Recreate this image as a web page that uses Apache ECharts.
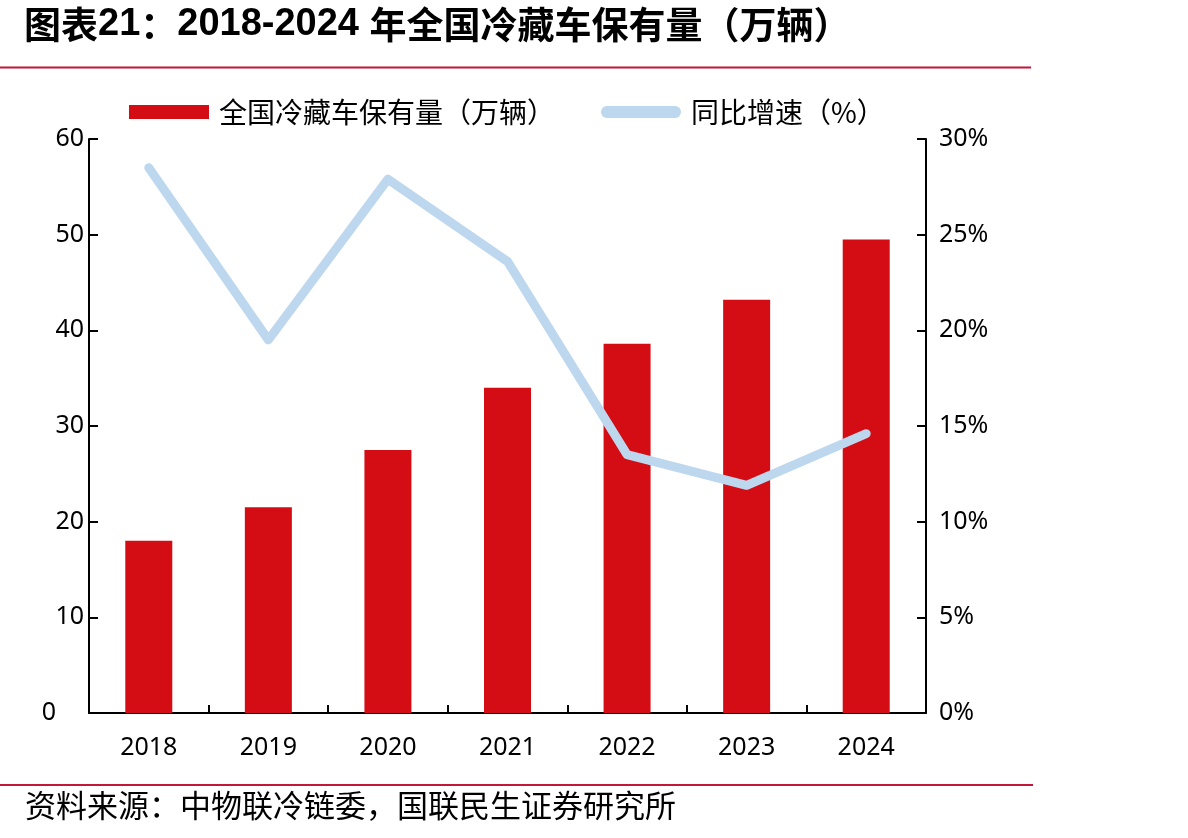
<!DOCTYPE html>
<html>
<head>
<meta charset="utf-8">
<script src="https://cdn.jsdelivr.net/npm/echarts@6/dist/echarts.min.js"></script>
<style>
html,body{margin:0;padding:0;background:#fff;}
#chart{width:1188px;height:838px;}
</style>
</head>
<body>
<div id="chart"></div>
<script>
var categories = ['2018', '2019', '2020', '2021', '2022', '2023', '2024'];
var stockValues = [18.0, 21.5, 27.5, 34.0, 38.6, 43.2, 49.5];
var growthValues = [0.285, 0.195, 0.279, 0.236, 0.135, 0.119, 0.146];
var leftTicks = { min: 0, max: 60, interval: 10 };
var rightTicks = { min: 0, max: 0.30, interval: 0.05 };
var seriesNames = ['全国冷藏车保有量（万辆）', '同比增速（%）'];

var chart = echarts.init(document.getElementById('chart'));
var axisColor = '#000';
var cjk = '"Noto Sans CJK SC", sans-serif';
var num = '"Noto Sans", "Open Sans", sans-serif';
var axisFont = 25;

chart.setOption({
  animation: false,
  backgroundColor: '#fff',
  title: {
    left: 24,
    top: 0,
    padding: [2, 0, 0, 0],
    text: '{c|图表}{n|21}{c|：}{n|2018-2024 }{c|年全国冷藏车保有量（万辆）}',
    textStyle: {
      rich: {
        c: { fontFamily: cjk, fontWeight: 'bold', fontSize: 37, color: '#000', lineHeight: 46 },
        n: { fontFamily: '"Liberation Sans", Arial, sans-serif', fontWeight: 'bold', fontSize: 38, color: '#000', lineHeight: 46 }
      }
    }
  },
  legend: {
    left: 129,
    top: 98,
    padding: 0,
    itemWidth: 80,
    itemHeight: 14,
    itemGap: 46,
    textStyle: { fontFamily: cjk, fontSize: 28, color: '#000', padding: [0, 0, 0, 5] },
    data: [
      { name: seriesNames[0], icon: 'rect' },
      { name: seriesNames[1], icon: 'path://M6,0L74,0A6,6,0,0,1,74,12L6,12A6,6,0,0,1,6,0Z' }
    ]
  },
  grid: { left: 89, right: 262, top: 139, bottom: 125, containLabel: false },
  xAxis: {
    type: 'category',
    data: categories,
    boundaryGap: true,
    axisLine: { show: true, lineStyle: { color: axisColor, width: 2 } },
    axisTick: { show: true, inside: true, length: 8, alignWithLabel: false, lineStyle: { color: axisColor, width: 2 } },
    axisLabel: { fontFamily: num, fontSize: axisFont, color: '#000', margin: 22 }
  },
  yAxis: [
    {
      type: 'value',
      min: leftTicks.min, max: leftTicks.max, interval: leftTicks.interval,
      position: 'left',
      axisLine: { show: true, lineStyle: { color: axisColor, width: 2 } },
      axisTick: { show: true, inside: true, length: 9, lineStyle: { color: axisColor, width: 2 } },
      splitLine: { show: false },
      axisLabel: {
        fontFamily: num, fontSize: axisFont, color: '#000', margin: 5,
        formatter: function (v) { return v === 0 ? '{z|0}' : String(v); },
        rich: { z: { fontFamily: num, fontSize: axisFont, color: '#000', padding: [0, 28, 0, 0] } }
      }
    },
    {
      type: 'value',
      min: rightTicks.min, max: rightTicks.max, interval: rightTicks.interval,
      position: 'right',
      axisLine: { show: true, lineStyle: { color: axisColor, width: 2 } },
      axisTick: { show: true, inside: true, length: 9, lineStyle: { color: axisColor, width: 2 } },
      splitLine: { show: false },
      axisLabel: {
        fontFamily: num, fontSize: axisFont, color: '#000', margin: 13,
        formatter: function (v) { return Math.round(v * 100) + '%'; }
      }
    }
  ],
  series: [
    {
      name: seriesNames[0],
      type: 'bar',
      data: stockValues,
      barWidth: 47,
      itemStyle: { color: '#D40C14' },
      yAxisIndex: 0
    },
    {
      name: seriesNames[1],
      type: 'line',
      data: growthValues,
      yAxisIndex: 1,
      symbol: 'none',
      showSymbol: false,
      color: '#BDD7EE',
      itemStyle: { color: '#BDD7EE' },
      lineStyle: { color: '#BDD7EE', width: 9, cap: 'round', join: 'round' },
      z: 5
    }
  ],
  graphic: [
    { type: 'line', shape: { x1: 0, y1: 67.5, x2: 1031, y2: 67.5 }, style: { stroke: '#C4153A', lineWidth: 2 } },
    { type: 'line', shape: { x1: 0, y1: 785, x2: 1033, y2: 785 }, style: { stroke: '#C4153A', lineWidth: 2 } },
    { type: 'text', left: 25, top: 790, style: { text: '资料来源：中物联冷链委，国联民生证券研究所', fontFamily: cjk, fontSize: 31, fill: '#000' } }
  ]
});
</script>
</body>
</html>
